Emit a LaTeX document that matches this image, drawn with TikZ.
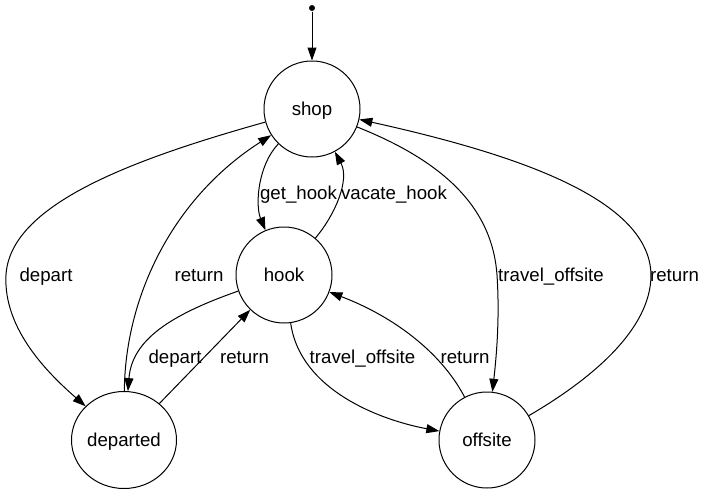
\documentclass[tikz,border=0pt]{standalone}
\usepackage{fontspec}
\setmainfont{Liberation Sans}
\usepackage{tikz}
\usetikzlibrary{arrows.meta,shapes.geometric}

\begin{document}
\begin{tikzpicture}[x=1pt,y=-1pt,line width=1pt,
  every node/.style={font=\fontsize{18.67}{22}\selectfont},
  state/.style={draw,circle,minimum size=96pt,inner sep=0pt,text height=13.5pt,text depth=1.5pt},
  lbl/.style={anchor=base,inner sep=0pt},
  edge/.style={-{Triangle[length=13pt,width=9pt]}}]
\useasboundingbox (0,0) rectangle (705,493);

\node[circle,fill,inner sep=0pt,minimum size=6pt] (start) at (312,8) {};
\node[state] (shop) at (312,109) {shop};
\node[state] (hook) at (284,275) {hook};
\node[state,ellipse,minimum width=105pt,minimum height=97pt] (departed) at (124,440) {departed};
\node[state] (offsite) at (487,440) {offsite};

\draw[edge] (start) -- (shop);

% shop <-> hook
\draw[edge] (shop) .. controls (258,165) and (255,205) .. (hook);
\node[lbl] (get) at (298.5,199) {get\_hook};
\draw[edge] (hook) .. controls (335,215) and (350,180) .. (shop);
\node[lbl] (vacate) at (394,199) {vacate\_hook};

% shop <-> departed
\draw[edge] (shop) .. controls (130,160) and (10,205) .. (6,275) .. controls (3,330) and (50,375) .. (departed);
\node[lbl] (dep1) at (46,281) {depart};
\draw[edge] (departed) .. controls (125,300) and (170,200) .. (shop);
\node[lbl] (ret1) at (199,281) {return};

% hook <-> departed
\draw[edge] (hook) .. controls (170,315) and (132,340) .. (departed);
\node[lbl] (dep2) at (175,363) {depart};
\draw[edge] (departed) -- (hook);
\node[lbl] (ret2) at (244.5,363) {return};

% hook <-> offsite
\draw[edge] (hook) .. controls (300,390) and (380,420) .. (offsite);
\node[lbl] (trav2) at (362.5,363) {travel\_offsite};
\draw[edge] (offsite) .. controls (440,350) and (390,315) .. (hook);
\node[lbl] (ret3) at (465,363) {return};

% shop <-> offsite
\draw[edge] (shop) .. controls (440,160) and (492,205) .. (497,275) .. controls (500,320) and (496,360) .. (offsite);
\node[lbl] (trav1) at (551,281) {travel\_offsite};
\draw[edge] (offsite) .. controls (590,380) and (651,330) .. (651,275) .. controls (650,200) and (520,155) .. (shop);
\node[lbl] (ret4) at (674.5,281) {return};
\end{tikzpicture}
\end{document}
